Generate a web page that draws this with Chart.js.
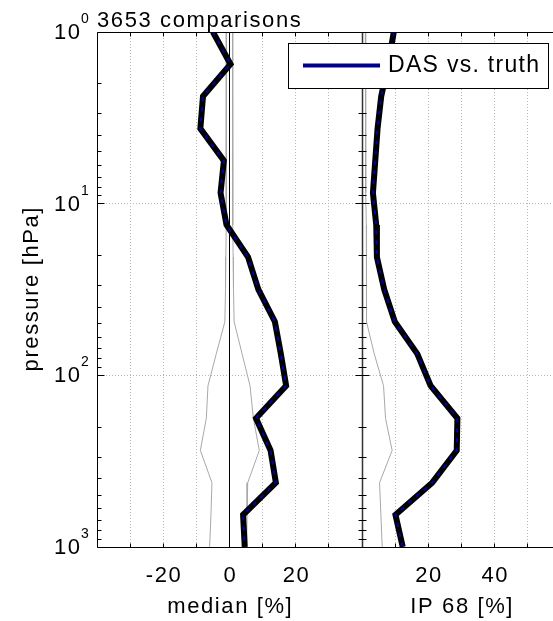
<!DOCTYPE html>
<html>
<head>
<meta charset="utf-8">
<title>DAS vs. truth</title>
<script src="https://cdn.jsdelivr.net/npm/chart.js@4.4.0/dist/chart.umd.min.js"></script>
<style>
  html, body { margin: 0; padding: 0; background: #fff; }
  #wrap { position: relative; width: 553px; height: 621px; overflow: hidden; }
</style>
</head>
<body>
<div id="wrap"><canvas id="profileChart" width="553" height="621"></canvas></div>
<script>
// pressure levels [hPa], top of the profile first
const pressure = [1, 1.54, 2.37, 3.65, 5.62, 8.66, 13.3, 20.5, 31.6, 48.7, 75, 115, 178, 274, 422, 649, 1000];

// DAS vs. truth, median difference [%]
const median = [-5.0, 0.3, -8.0, -8.8, -1.7, -2.7, -0.9, 5.6, 8.7, 13.7, 15.5, 17.1, 8.0, 12.4, 14.0, 4.1, 4.6];
// DAS vs. truth, 68% interpercentile range [%]
const ip68 = [9.6, 7.9, 5.8, 4.7, 4.0, 3.3, 4.3, 4.5, 6.7, 9.9, 16.7, 20.7, 28.8, 28.6, 21.2, 10.1, 12.3];

// reference envelope (thin grey lines)
const medianLow = [-0.9, -0.9, -1.0, -1.0, -1.0, -1.0, -1.0, -1.1, -1.2, -1.4, -4.0, -6.5, -7.0, -8.8, -5.3, -5.6, -6.0];
const medianHigh = [0.9, 0.9, 1.0, 1.0, 1.0, 1.0, 1.0, 1.1, 1.2, 1.4, 3.8, 6.2, 7.2, 9.0, 5.5, 5.3, 5.2];
const ip68Ref = [1.0, 1.0, 1.1, 1.1, 1.2, 1.2, 1.3, 1.4, 1.4, 1.3, 3.7, 6.5, 7.1, 9.1, 5.3, 5.7, 6.1];

// axis ticks
const medianTicks = [-30, -20, -10, 0, 10, 20, 30];
const medianLabels = [-20, 0, 20];
const ipTicks = [10, 20, 30, 40, 50];
const ipLabels = [20, 40];
const pressureMajor = [1, 10, 100, 1000];
const pressureMinor = [2, 3, 4, 5, 6, 7, 8, 9, 20, 30, 40, 50, 60, 70, 80, 90, 200, 300, 400, 500, 600, 700, 800, 900];

const FONT = '"Liberation Sans", Arial, Helvetica, sans-serif';
const PX_PER_UNIT = 265 / 80;   // both panels share the same x scale factor
const PLOT_W = 553 - 97;

function profile(values) {
    return values.map((v, i) => ({ x: v, y: pressure[i] }));
}

function crisp(v) {
    return Math.round(v - 0.5) + 0.5;
}

function line(ctx, x1, y1, x2, y2) {
    ctx.beginPath();
    ctx.moveTo(x1, y1);
    ctx.lineTo(x2, y2);
    ctx.stroke();
}

// text with the slightly wide MATLAB spacing
function label(ctx, text, x, y, size, spacing) {
    ctx.font = size + 'px ' + FONT;
    ctx.letterSpacing = spacing + 'px';
    let dx = 0;
    if (ctx.textAlign === 'center') dx = spacing / 2;
    else if (ctx.textAlign === 'right') dx = spacing;
    ctx.fillText(text, x + dx, y);
    ctx.letterSpacing = '0px';
}

/**
 * Grid, box, ticks, labels and legend (MATLAB style)
 */
const frame = {
    id: 'frame',
    beforeDatasetsDraw(chart) {
        const { ctx, chartArea: a, scales } = chart;
        ctx.save();
        ctx.strokeStyle = '#b8b8b8';
        ctx.lineWidth = 1;
        ctx.setLineDash([1, 2]);
        medianTicks.forEach(v => {
            const x = crisp(scales.xm.getPixelForValue(v));
            line(ctx, x, a.top, x, a.bottom);
        });
        ipTicks.forEach(v => {
            const x = crisp(scales.xi.getPixelForValue(v));
            line(ctx, x, a.top, x, a.bottom);
        });
        [10, 100].forEach(p => {
            const y = crisp(scales.y.getPixelForValue(p));
            line(ctx, a.left, y, a.right, y);
        });
        ctx.restore();
    },
    afterDatasetsDraw(chart) {
        const { ctx, chartArea: a, scales } = chart;
        const xm = scales.xm, xi = scales.xi, y = scales.y;
        const left = crisp(a.left), top = crisp(a.top), bottom = crisp(a.bottom);
        const mid = crisp(xi.getPixelForValue(0));

        ctx.save();
        ctx.strokeStyle = '#000';
        ctx.lineWidth = 1;

        // box and panel divider
        line(ctx, left, top, a.right, top);
        line(ctx, left, bottom, a.right, bottom);
        line(ctx, left, top, left, bottom);
        ctx.strokeStyle = '#333';
        ctx.lineWidth = 1.5;
        line(ctx, mid, top, mid, bottom);
        ctx.strokeStyle = '#000';
        ctx.lineWidth = 1;

        // x ticks, inside at top and bottom
        const xt = medianTicks.map(v => xm.getPixelForValue(v))
            .concat(ipTicks.map(v => xi.getPixelForValue(v)));
        xt.forEach(px => {
            const x = crisp(px);
            line(ctx, x, bottom, x, bottom - 4);
            line(ctx, x, top, x, top + 4);
        });

        // pressure ticks on the left axis and on the divider
        const yTick = (p, len) => {
            const py = crisp(y.getPixelForValue(p));
            line(ctx, left, py, left + len, py);
            line(ctx, mid - len, py, mid + len, py);
        };
        pressureMinor.forEach(p => yTick(p, 4));
        pressureMajor.forEach(p => yTick(p, 7));

        ctx.fillStyle = '#000';

        // pressure labels 10^n
        pressureMajor.forEach((p, n) => {
            const py = y.getPixelForValue(p);
            ctx.textAlign = 'right';
            ctx.textBaseline = 'middle';
            label(ctx, '10', 80, py + 1, 22, 1.6);
            ctx.textAlign = 'left';
            ctx.textBaseline = 'alphabetic';
            label(ctx, String(n), 81, py - 9, 14, 0);
        });

        // x tick labels
        ctx.textAlign = 'center';
        ctx.textBaseline = 'alphabetic';
        medianLabels.forEach(v => label(ctx, String(v), xm.getPixelForValue(v), 582, 22, 1.6));
        ipLabels.forEach(v => label(ctx, String(v), xi.getPixelForValue(v), 582, 22, 1.6));

        // axis titles
        label(ctx, 'median [%]', xm.getPixelForValue(0), 613, 22, 1.6);
        label(ctx, 'IP 68 [%]', xi.getPixelForValue(30), 613, 22, 1.6);
        ctx.save();
        ctx.translate(32, (a.top + a.bottom) / 2);
        ctx.rotate(-Math.PI / 2);
        ctx.textBaseline = 'middle';
        label(ctx, 'pressure [hPa]', 0, 0, 22, 1.6);
        ctx.restore();

        // title
        ctx.textAlign = 'left';
        label(ctx, '3653 comparisons', 97, 27, 22, 1.6);

        // legend
        ctx.fillStyle = '#fff';
        ctx.fillRect(288.5, 43.5, 260, 45);
        ctx.strokeRect(288.5, 43.5, 260, 45);
        ctx.strokeStyle = '#000090';
        ctx.lineWidth = 4;
        line(ctx, 303, 65.5, 380, 65.5);
        ctx.fillStyle = '#000';
        ctx.textBaseline = 'middle';
        label(ctx, 'DAS vs. truth', 388, 66, 23, 1.3);

        ctx.restore();
    }
};

function thinLine(data, axis, color) {
    return {
        data: profile(data),
        xAxisID: axis,
        borderColor: color,
        borderWidth: 1,
        order: 3
    };
}

function thickLine(data, axis) {
    return [{
        // black body
        data: profile(data),
        xAxisID: axis,
        borderColor: '#000',
        borderWidth: 6,
        borderJoinStyle: 'miter',
        order: 1
    }, {
        // blue dashes on top
        data: profile(data),
        xAxisID: axis,
        borderColor: '#0000b0',
        borderWidth: 2,
        borderDash: [4, 6],
        order: 0
    }];
}

const ctx = document.getElementById('profileChart').getContext('2d');

new Chart(ctx, {
    type: 'line',
    data: {
        datasets: [
            {
                data: [{ x: 0, y: 1 }, { x: 0, y: 1000 }],
                xAxisID: 'xm',
                borderColor: '#000',
                borderWidth: 1,
                order: 4
            },
            thinLine(medianLow, 'xm', '#a8a8a8'),
            thinLine(medianHigh, 'xm', '#a8a8a8'),
            thinLine(ip68Ref, 'xi', '#a8a8a8'),
            ...thickLine(median, 'xm'),
            ...thickLine(ip68, 'xi')
        ]
    },
    options: {
        responsive: false,
        animation: false,
        devicePixelRatio: 1,
        layout: { padding: { left: 97, top: 32, right: 0, bottom: 74 } },
        elements: {
            point: { radius: 0 },
            line: { tension: 0 }
        },
        plugins: {
            legend: { display: false },
            tooltip: { enabled: false }
        },
        scales: {
            y: {
                type: 'logarithmic',
                reverse: true,
                min: 1,
                max: 1000,
                display: false
            },
            xm: {
                type: 'linear',
                axis: 'x',
                min: -40,
                max: -40 + PLOT_W / PX_PER_UNIT,
                display: false
            },
            xi: {
                type: 'linear',
                axis: 'x',
                min: -80,
                max: -80 + PLOT_W / PX_PER_UNIT,
                display: false
            }
        }
    },
    plugins: [frame]
});
</script>
</body>
</html>
